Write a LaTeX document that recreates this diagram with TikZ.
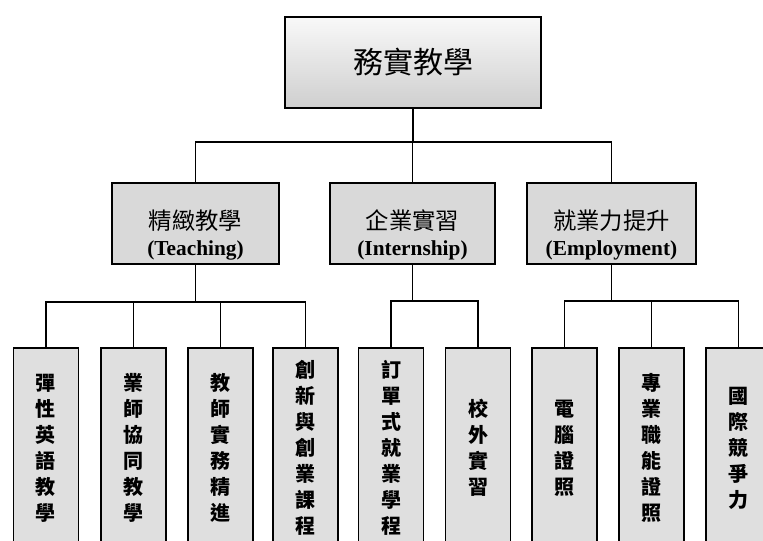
\documentclass[tikz,border=0pt]{standalone}
\usepackage{fontspec}
\setmainfont{Liberation Serif}
\newfontfamily\cjk{Noto Sans CJK TC}
\begin{document}
\begin{tikzpicture}[x=0.75pt,y=-0.75pt]
\tikzset{
 topbox/.style={draw, line width=1.3pt, top color=gray!5, bottom color=gray!38, minimum width=192pt, minimum height=68.25pt, inner sep=0pt, font=\cjk\fontsize{22.5}{27}\selectfont},
 midbox/.style={draw, line width=1.3pt, fill=gray!30, minimum height=60.75pt, inner sep=0pt},
 midtext/.style={align=center, inner sep=0pt, font=\fontsize{15}{19.5}\selectfont},
 leafbox/.style={draw, line width=1.3pt, fill=gray!25, minimum width=48.75pt, minimum height=150pt, inner sep=0pt, align=center, font=\cjk\bfseries\fontsize{15}{19.5}\selectfont},
 conn/.style={line width=1.1pt}
}
\useasboundingbox (0,0) rectangle (763,541);
\clip (0,0) rectangle (763,541);
% top
\node[topbox] (top) at (413,62.5) {務實教學};
% middle
\node[midbox, minimum width=125.25pt] (m1) at (195.5,223.5) {};
\node[midbox, minimum width=123.75pt] (m2) at (412.5,223.5) {};
\node[midbox, minimum width=126.75pt] (m3) at (611.5,223.5) {};
\node[midtext] (t1) at (195.5,235) {{\cjk\fontsize{17.5}{21}\selectfont 精緻教學}\\{\bfseries\fontsize{16}{18}\selectfont (Teaching)}};
\node[midtext] (t2) at (412.5,235) {{\cjk\fontsize{17.5}{21}\selectfont 企業實習}\\{\bfseries\fontsize{16}{18}\selectfont (Internship)}};
\node[midtext] (t3) at (611.5,235) {{\cjk\fontsize{17.5}{21}\selectfont 就業力提升}\\{\bfseries\fontsize{16}{18}\selectfont (Employment)}};
% leaves
\node[leafbox] (l1) at (46,448) {彈\\性\\英\\語\\教\\學};
\node[leafbox] (l2) at (133.5,448) {業\\師\\協\\同\\教\\學};
\node[leafbox] (l3) at (220.5,448) {教\\師\\實\\務\\精\\進};
\node[leafbox] (l4) at (305.5,448) {創\\新\\與\\創\\業\\課\\程};
\node[leafbox] (l5) at (391,448) {訂\\單\\式\\就\\業\\學\\程};
\node[leafbox] (l6) at (478,448) {校\\外\\實\\習};
\node[leafbox] (l7) at (564.5,448) {電\\腦\\證\\照};
\node[leafbox] (l8) at (651.5,448) {專\\業\\職\\能\\證\\照};
\node[leafbox] (l9) at (738.5,448) {國\\際\\競\\爭\\力};
% connectors
\coordinate (b0) at (413,142);
\draw[conn] (top.south) -- (b0);
\draw[conn] (m1.north) |- (b0) -| (m3.north);
\draw[conn] (m2.north) -- (m2.north |- b0);
\coordinate (b1) at (195.5,302);
\draw[conn] (m1.south) -- (b1);
\draw[conn] (l1.north) |- (b1) -| (l4.north);
\draw[conn] (l2.north) -- (l2.north |- b1);
\draw[conn] (l3.north) -- (l3.north |- b1);
\coordinate (b2) at (412.5,301);
\draw[conn] (m2.south) -- (b2);
\draw[conn] (l5.north) |- (b2) -| (l6.north);
\coordinate (b3) at (611.5,301);
\draw[conn] (m3.south) -- (b3);
\draw[conn] (l7.north) |- (b3) -| (l9.north);
\draw[conn] (l8.north) -- (l8.north |- b3);
\end{tikzpicture}
\end{document}
